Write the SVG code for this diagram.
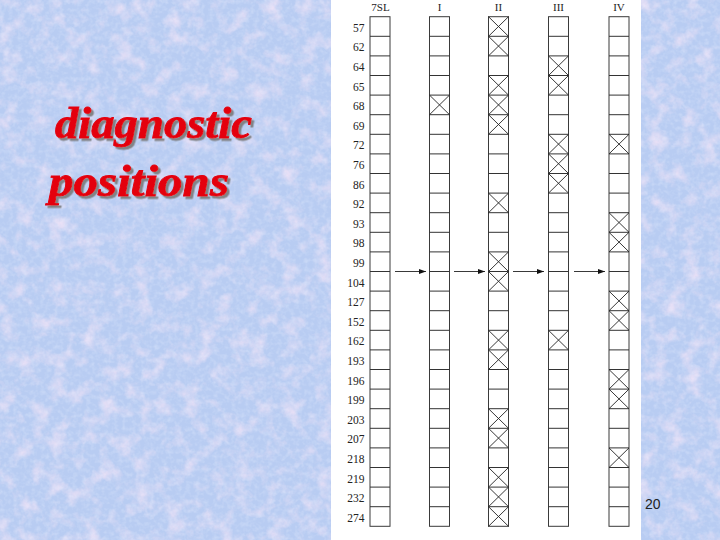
<svg xmlns="http://www.w3.org/2000/svg" width="720" height="540" viewBox="0 0 720 540">
<style>
.num{font-family:"Liberation Serif","Times New Roman",serif;font-size:11.5px;fill:#222;text-anchor:end}
.hdr{font-family:"Liberation Serif","Times New Roman",serif;font-size:11px;fill:#222;text-anchor:middle}
.box{fill:#fff;stroke:#3a3a3a;stroke-width:1}
.ln{fill:none;stroke:#333;stroke-width:1}
.xx{fill:none;stroke:#222;stroke-width:0.9}
.arr{stroke:#222;stroke-width:0.9;fill:none}
.title{font-family:"Liberation Serif","Times New Roman",serif;font-weight:bold;font-style:italic;font-size:45px;fill:#e4000f;stroke:#e4000f;stroke-width:0.9;filter:url(#shadow)}
</style>
<defs>
<filter id="tex" x="0" y="0" width="100%" height="100%">
<feTurbulence type="fractalNoise" baseFrequency="0.06" numOctaves="4" seed="7"/>
<feColorMatrix values="0 0 0 0 0.90  0 0 0 0 0.78  0 0 0 0 0.93  1.8 0 0 0 -0.82"/>
</filter>
<filter id="tex2" x="0" y="0" width="100%" height="100%">
<feTurbulence type="fractalNoise" baseFrequency="0.22" numOctaves="2" seed="3"/>
<feColorMatrix values="0 0 0 0 0.80  0 0 0 0 0.86  0 0 0 0 1  0 1.4 0 0 -0.58"/>
</filter>
<filter id="shadow" x="-10%" y="-20%" width="130%" height="150%">
<feDropShadow dx="2.5" dy="2.5" stdDeviation="0.6" flood-color="#7a7a7a" flood-opacity="0.9"/>
</filter>
<marker id="ah" markerWidth="8" markerHeight="6" refX="7" refY="2.5" orient="auto" markerUnits="userSpaceOnUse">
<path d="M0 0L7 2.5L0 5z" fill="#111"/>
</marker>
<rect id="col" x="0" y="16.7" width="20" height="509.6"/>
<path id="rows" d="M0 36.3h20M0 55.9h20M0 75.5h20M0 95.1h20M0 114.7h20M0 134.3h20M0 153.9h20M0 173.5h20M0 193.1h20M0 212.7h20M0 232.3h20M0 251.9h20M0 271.5h20M0 291.1h20M0 310.7h20M0 330.3h20M0 349.9h20M0 369.5h20M0 389.1h20M0 408.7h20M0 428.3h20M0 447.9h20M0 467.5h20M0 487.1h20M0 506.7h20"/>
<path id="x" d="M0 0L20 19.6M20 0L0 19.6"/>
</defs>

<g id="background">
<rect width="720" height="540" fill="#b8ccf2"/>
<rect width="720" height="540" filter="url(#tex)"/>
<rect width="720" height="540" filter="url(#tex2)" opacity="0.5"/>
<rect x="331" y="0" width="310" height="540" fill="#fff"/>
</g>

<g id="title">
<text class="title" x="55" y="138" textLength="197" lengthAdjust="spacingAndGlyphs">diagnostic</text>
<text class="title" x="49" y="196" textLength="180" lengthAdjust="spacingAndGlyphs">positions</text>
</g>

<g id="row-labels">
<text class="num" x="364.5" y="31.7">57</text>
<text class="num" x="364.5" y="51.3">62</text>
<text class="num" x="364.5" y="70.9">64</text>
<text class="num" x="364.5" y="90.5">65</text>
<text class="num" x="364.5" y="110.1">68</text>
<text class="num" x="364.5" y="129.7">69</text>
<text class="num" x="364.5" y="149.3">72</text>
<text class="num" x="364.5" y="168.9">76</text>
<text class="num" x="364.5" y="188.5">86</text>
<text class="num" x="364.5" y="208.1">92</text>
<text class="num" x="364.5" y="227.7">93</text>
<text class="num" x="364.5" y="247.3">98</text>
<text class="num" x="364.5" y="266.9">99</text>
<text class="num" x="364.5" y="286.5">104</text>
<text class="num" x="364.5" y="306.1">127</text>
<text class="num" x="364.5" y="325.7">152</text>
<text class="num" x="364.5" y="345.3">162</text>
<text class="num" x="364.5" y="364.9">193</text>
<text class="num" x="364.5" y="384.5">196</text>
<text class="num" x="364.5" y="404.1">199</text>
<text class="num" x="364.5" y="423.7">203</text>
<text class="num" x="364.5" y="443.3">207</text>
<text class="num" x="364.5" y="462.9">218</text>
<text class="num" x="364.5" y="482.5">219</text>
<text class="num" x="364.5" y="502.1">232</text>
<text class="num" x="364.5" y="521.7">274</text>
</g>

<g id="col-7SL">
<text class="hdr" x="380.5" y="11">7SL</text>
<use href="#col" x="370" class="box"/>
<use href="#rows" x="370" class="ln"/>
</g>

<g id="col-I">
<text class="hdr" x="439.5" y="11">I</text>
<use href="#col" x="429.5" class="box"/>
<use href="#rows" x="429.5" class="ln"/>
<g class="xx">
<use href="#x" x="429.5" y="95.1"/>
</g>
</g>

<g id="col-II">
<text class="hdr" x="498.5" y="11">II</text>
<use href="#col" x="488.5" class="box"/>
<use href="#rows" x="488.5" class="ln"/>
<g class="xx">
<use href="#x" x="488.5" y="16.7"/>
<use href="#x" x="488.5" y="36.3"/>
<use href="#x" x="488.5" y="75.5"/>
<use href="#x" x="488.5" y="95.1"/>
<use href="#x" x="488.5" y="114.7"/>
<use href="#x" x="488.5" y="193.1"/>
<use href="#x" x="488.5" y="251.9"/>
<use href="#x" x="488.5" y="271.5"/>
<use href="#x" x="488.5" y="330.3"/>
<use href="#x" x="488.5" y="349.9"/>
<use href="#x" x="488.5" y="408.7"/>
<use href="#x" x="488.5" y="428.3"/>
<use href="#x" x="488.5" y="467.5"/>
<use href="#x" x="488.5" y="487.1"/>
<use href="#x" x="488.5" y="506.7"/>
</g>
</g>

<g id="col-III">
<text class="hdr" x="558.5" y="11">III</text>
<use href="#col" x="548.5" class="box"/>
<use href="#rows" x="548.5" class="ln"/>
<g class="xx">
<use href="#x" x="548.5" y="55.9"/>
<use href="#x" x="548.5" y="75.5"/>
<use href="#x" x="548.5" y="134.3"/>
<use href="#x" x="548.5" y="153.9"/>
<use href="#x" x="548.5" y="173.5"/>
<use href="#x" x="548.5" y="330.3"/>
</g>
</g>

<g id="col-IV">
<text class="hdr" x="619" y="11">IV</text>
<use href="#col" x="609" class="box"/>
<use href="#rows" x="609" class="ln"/>
<g class="xx">
<use href="#x" x="609" y="134.3"/>
<use href="#x" x="609" y="212.7"/>
<use href="#x" x="609" y="232.3"/>
<use href="#x" x="609" y="291.1"/>
<use href="#x" x="609" y="310.7"/>
<use href="#x" x="609" y="369.5"/>
<use href="#x" x="609" y="389.1"/>
<use href="#x" x="609" y="447.9"/>
</g>
</g>

<g id="connectors">
<line class="arr" x1="395" y1="271.5" x2="426" y2="271.5" marker-end="url(#ah)"/>
<line class="arr" x1="454" y1="271.5" x2="485" y2="271.5" marker-end="url(#ah)"/>
<line class="arr" x1="513" y1="271.5" x2="544" y2="271.5" marker-end="url(#ah)"/>
<line class="arr" x1="574" y1="271.5" x2="605" y2="271.5" marker-end="url(#ah)"/>
</g>

<text x="645" y="509" font-family="Liberation Sans, Arial, sans-serif" font-size="14" fill="#222">20</text>
</svg>
